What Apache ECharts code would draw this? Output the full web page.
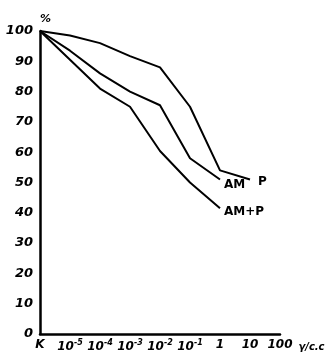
<!DOCTYPE html>
<html>
<head>
<meta charset="utf-8">
<script src="https://cdn.jsdelivr.net/npm/echarts@6/dist/echarts.min.js"></script>
<style>html,body{margin:0;padding:0;background:#fff}#c{width:327px;height:362px}</style>
</head>
<body>
<div id="c"></div>
<script>
var categories = ['K', '10^-5', '10^-4', '10^-3', '10^-2', '10^-1', '1', '10', '100'];
var yTicks = [0, 10, 20, 30, 40, 50, 60, 70, 80, 90, 100];
var seriesP = [100, 98.5, 96, 91.7, 88, 75, 54, 51];
var seriesAM = [100, 93.5, 86, 80, 75.5, 58, 51];
var seriesAMP = [100, 90.5, 81, 75, 60.4, 50, 41.5];

var font = 'DejaVu Sans';
var chart = echarts.init(document.getElementById('c'), null, {renderer: 'canvas'});
function lineSeries(name, data, off) {
  return {
    name: name, type: 'line', data: data, symbol: 'none', animation: false,
    lineStyle: {color: '#000', width: 2},
    endLabel: {show: true, formatter: '{a}', color: '#000', fontFamily: font,
      fontWeight: 'bold', fontSize: 12, offset: off, distance: 4}
  };
}
chart.setOption({
  animation: false,
  backgroundColor: '#fff',
  grid: {left: 40, right: 47, top: 31, bottom: 28, outerBoundsMode: 'none'},
  xAxis: {
    type: 'category', boundaryGap: false, data: categories,
    axisLine: {lineStyle: {color: '#000', width: 2.5}},
    axisTick: {show: false},
    axisLabel: {
      margin: 5, color: '#000', fontFamily: font, fontStyle: 'italic', fontWeight: 'bold', fontSize: 12,
      interval: 0,
      formatter: function (v) {
        if (v.indexOf('^') >= 0) {
          var p = v.split('^');
          return '{b|' + p[0] + '}{s|' + p[1] + '}';
        }
        return '{b|' + v + '}';
      },
      rich: {
        b: {fontFamily: font, fontStyle: 'italic', fontWeight: 'bold', fontSize: 12, color: '#000'},
        s: {fontFamily: font, fontStyle: 'italic', fontWeight: 'bold', fontSize: 8, color: '#000', padding: [0, 0, 8, 0]}
      }
    },
    name: 'γ/c.c', nameLocation: 'end', nameGap: 13,
    nameTextStyle: {color: '#000', fontFamily: font, fontStyle: 'italic', fontWeight: 'bold', fontSize: 10,
      verticalAlign: 'top', padding: [8, 0, 0, 0]}
  },
  yAxis: {
    type: 'value', min: 0, max: 100, interval: 10,
    axisLine: {show: true, lineStyle: {color: '#000', width: 2.5}},
    axisTick: {show: false},
    splitLine: {show: false},
    axisLabel: {margin: 7, color: '#000', fontFamily: font, fontStyle: 'italic', fontWeight: 'bold', fontSize: 13,
      formatter: function (v) { return yTicks.indexOf(v) >= 0 ? String(v) : ''; }},
    name: '%', nameLocation: 'end', nameGap: 6,
    nameTextStyle: {color: '#000', fontFamily: font, fontStyle: 'italic', fontWeight: 'bold', fontSize: 11, align: 'left', padding: [0, 0, 0, 0]}
  },
  series: [
    lineSeries('P', seriesP, [4, 2]),
    lineSeries('AM', seriesAM, [0, 5]),
    lineSeries('AM+P', seriesAMP, [0, 4])
  ]
});
</script>
</body>
</html>
